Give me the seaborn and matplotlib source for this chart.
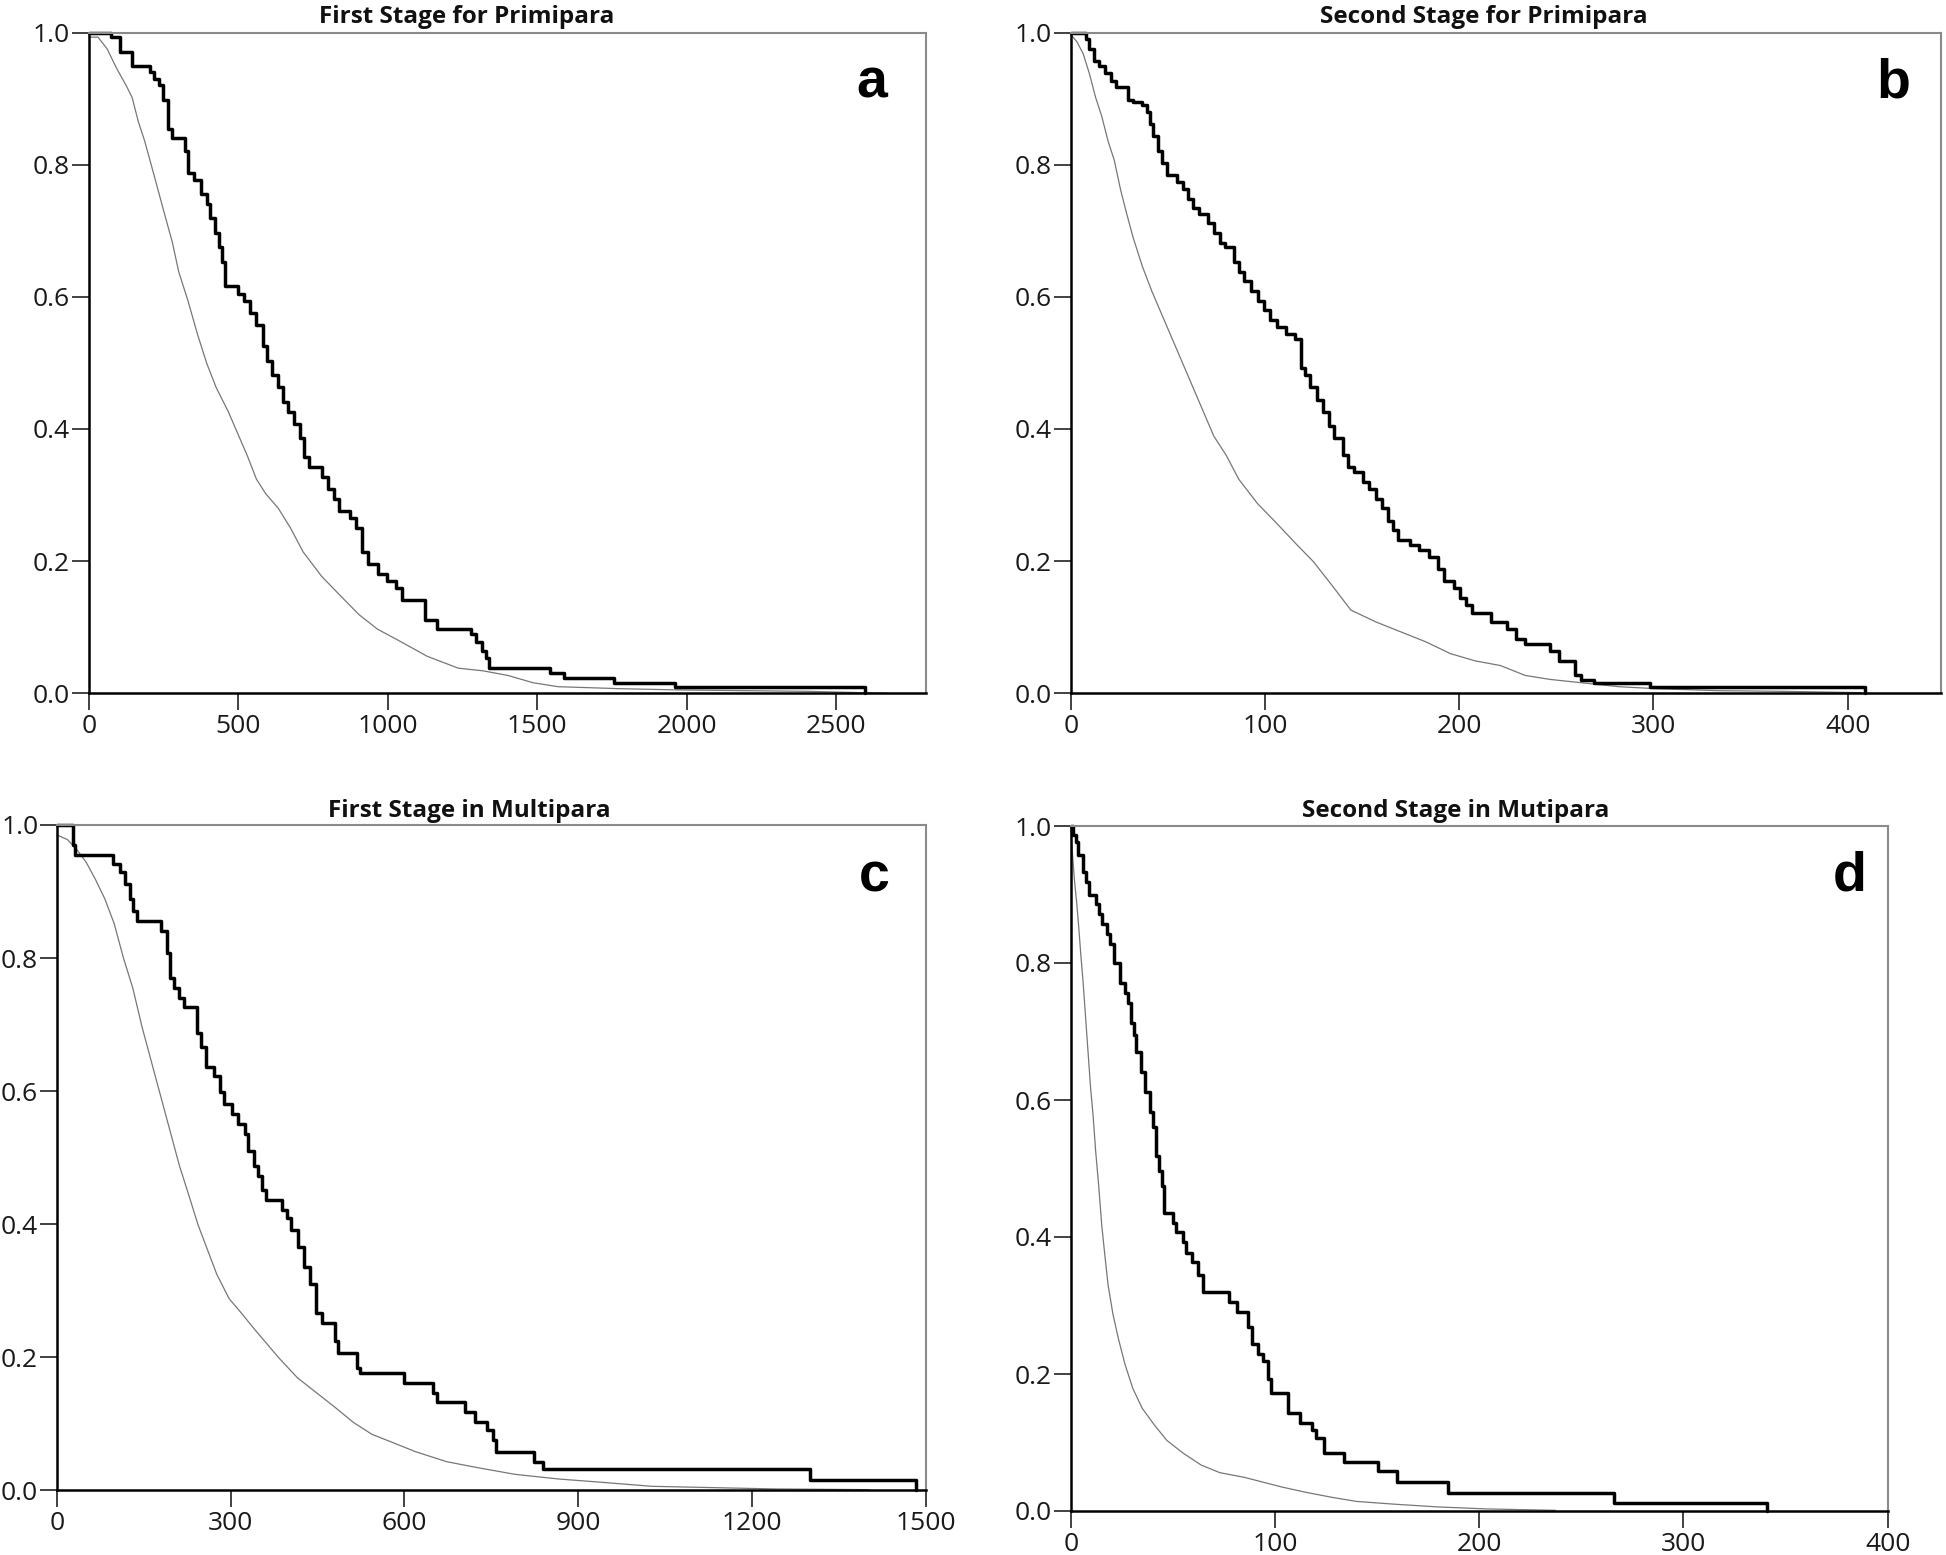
import matplotlib
matplotlib.use('Agg')
import matplotlib.pyplot as plt
import seaborn as sns
import pandas as pd

# ---- values (time, survival) ----
# a: first stage, primipara
a_thick_t = [0, 73, 104, 145, 204, 218, 235, 249, 264, 280, 322, 332, 353, 374, 395, 405, 422, 436, 447,
             457, 499, 519, 540, 561, 582, 596, 613, 634, 650, 665, 686, 706, 721, 738, 779, 800, 821, 837,
             873, 893, 914, 935, 966, 997, 1028, 1049, 1126, 1164, 1278, 1294, 1315, 1330, 1340, 1544,
             1589, 1756, 1959, 2597]
a_thick_s = [1.0, 0.993, 0.97, 0.949, 0.94, 0.93, 0.92, 0.898, 0.854, 0.84, 0.821, 0.788, 0.777, 0.755,
             0.741, 0.719, 0.697, 0.675, 0.653, 0.616, 0.605, 0.594, 0.576, 0.558, 0.525, 0.503, 0.481,
             0.463, 0.441, 0.426, 0.408, 0.386, 0.357, 0.342, 0.327, 0.309, 0.294, 0.276, 0.265, 0.250,
             0.214, 0.195, 0.181, 0.170, 0.159, 0.141, 0.111, 0.097, 0.089, 0.078, 0.064, 0.053, 0.038,
             0.031, 0.023, 0.016, 0.009, 0.0]
a_thin_t = [0, 31, 62, 93, 125, 145, 166, 187, 218, 249, 280, 301, 332, 364, 395, 426, 467, 488, 530, 561,
            592, 634, 675, 717, 779, 841, 904, 966, 1028, 1132, 1236, 1319, 1402, 1486, 1569, 1776, 1984,
            2400, 2670]
a_thin_s = [0.993, 0.993, 0.975, 0.946, 0.920, 0.902, 0.865, 0.836, 0.785, 0.733, 0.682, 0.638, 0.594,
            0.543, 0.499, 0.463, 0.426, 0.404, 0.360, 0.324, 0.302, 0.280, 0.250, 0.214, 0.177, 0.148,
            0.119, 0.097, 0.082, 0.056, 0.038, 0.034, 0.027, 0.016, 0.010, 0.007, 0.005, 0.003, 0.0]

# b: second stage, primipara
b_thick_t = [0, 8, 9.6, 11.9, 14.4, 17.6, 20.8, 23.4, 29.5, 32.1, 36.9, 39.4, 40.7, 42.6, 44.9, 47.1, 49.7,
             54.5, 57.7, 60.3, 63.1, 66.3, 70.5, 73.7, 76.9, 79.2, 84.0, 86.5, 89.1, 92.9, 96.2, 99.4,
             102.6, 106.4, 110.6, 115.4, 118.6, 120.8, 123.4, 126.6, 129.8, 133.0, 135.3, 140.4, 142.6,
             145.8, 150.6, 153.8, 157.1, 160.3, 163.5, 165.7, 168.3, 174.7, 179.5, 184.3, 189.1, 192.3,
             197.1, 200.3, 203.5, 206.7, 216.3, 224.4, 229.2, 234.0, 246.8, 251.6, 259.6, 262.8, 269.2,
             298.1, 408.7]
b_thick_s = [1.0, 0.990, 0.975, 0.957, 0.949, 0.938, 0.927, 0.917, 0.898, 0.895, 0.891, 0.880, 0.862,
             0.843, 0.821, 0.803, 0.785, 0.774, 0.763, 0.748, 0.734, 0.726, 0.712, 0.697, 0.682, 0.675,
             0.653, 0.638, 0.624, 0.609, 0.594, 0.580, 0.565, 0.554, 0.543, 0.536, 0.492, 0.481, 0.463,
             0.444, 0.426, 0.404, 0.386, 0.360, 0.342, 0.335, 0.320, 0.309, 0.294, 0.280, 0.261, 0.247,
             0.232, 0.225, 0.217, 0.206, 0.188, 0.170, 0.159, 0.144, 0.133, 0.122, 0.108, 0.097, 0.082,
             0.075, 0.064, 0.049, 0.027, 0.020, 0.015, 0.009, 0.0]
b_thin_t = [0, 3.2, 6.4, 9.6, 12.8, 16.0, 19.2, 22.4, 25.6, 28.8, 32.1, 36.9, 41.7, 48.1, 54.5, 60.9, 67.3,
            73.7, 80.1, 86.5, 96.2, 105.8, 115.4, 125.0, 134.6, 144.2, 157.1, 169.9, 182.7, 195.5, 208.3,
            221.2, 234.0, 246.8, 262.8, 282.1, 301.3, 333.3, 365.4, 407]
b_thin_s = [0.997, 0.986, 0.968, 0.938, 0.902, 0.873, 0.836, 0.807, 0.763, 0.726, 0.690, 0.646, 0.609,
            0.565, 0.521, 0.477, 0.433, 0.389, 0.360, 0.324, 0.287, 0.258, 0.228, 0.199, 0.163, 0.126,
            0.108, 0.093, 0.078, 0.060, 0.049, 0.042, 0.027, 0.021, 0.016, 0.010, 0.007, 0.004, 0.003,
            0.001]

# c: first stage, multipara
c_thick_t = [0, 27, 31, 96.6, 109.5, 118.1, 125.6, 130.9, 138.5, 179.2, 190.0, 195.3, 202.9, 211.4, 219.0,
             241.5, 248.8, 257.6, 270.5, 281.2, 288.7, 302.7, 313.4, 324.1, 329.5, 340.2, 347.8, 354.2,
             361.7, 388.5, 397.1, 404.6, 415.4, 426.1, 436.8, 447.6, 458.3, 479.8, 485.1, 517.3, 522.7,
             600.0, 649.4, 656.9, 705.5, 721.4, 742.9, 753.5, 758.8, 823.2, 839.3, 1300.9, 1483]
c_thick_s = [1.0, 0.97, 0.955, 0.941, 0.930, 0.911, 0.889, 0.870, 0.855, 0.840, 0.807, 0.770, 0.755, 0.740,
             0.726, 0.688, 0.666, 0.636, 0.622, 0.599, 0.581, 0.566, 0.551, 0.536, 0.510, 0.488, 0.473,
             0.451, 0.436, 0.421, 0.410, 0.392, 0.366, 0.336, 0.310, 0.266, 0.251, 0.225, 0.206, 0.184,
             0.177, 0.162, 0.147, 0.132, 0.117, 0.102, 0.091, 0.076, 0.058, 0.043, 0.032, 0.015, 0.0]
c_thin_t = [0, 18.2, 34.3, 50.4, 66.5, 82.6, 98.7, 114.8, 130.9, 147.0, 163.1, 179.2, 195.3, 211.4, 227.5,
            243.6, 259.7, 275.8, 297.3, 318.8, 340.2, 361.7, 383.2, 415.4, 447.6, 479.8, 512.0, 544.2,
            576.4, 619.3, 673.0, 726.6, 791.0, 866.2, 941.3, 1027.2, 1134.5, 1241.8, 1402.8]
c_thin_s = [0.985, 0.978, 0.963, 0.944, 0.918, 0.889, 0.852, 0.800, 0.755, 0.696, 0.644, 0.592, 0.540,
            0.488, 0.444, 0.399, 0.362, 0.325, 0.288, 0.266, 0.243, 0.221, 0.199, 0.169, 0.147, 0.125,
            0.102, 0.084, 0.073, 0.058, 0.043, 0.034, 0.024, 0.017, 0.012, 0.006, 0.004, 0.002, 0.001]

# d: second stage, multipara
d_thick_t = [0, 0.9, 2.4, 3.7, 6.1, 7.6, 9.1, 12.2, 13.7, 15.2, 17.6, 19.2, 21.3, 24.3, 26.5, 28.0, 29.5,
             31.0, 31.9, 34.4, 36.5, 38.6, 40.5, 41.7, 43.2, 44.7, 45.6, 50.2, 51.7, 54.8, 56.3, 59.3,
             62.4, 64.8, 77.6, 81.5, 86.7, 88.8, 91.9, 94.3, 96.4, 97.9, 106.5, 112.5, 118.0, 120.2,
             124.1, 133.8, 150.6, 159.7, 184.9, 266.2, 340.7]
d_thick_s = [1.0, 0.987, 0.976, 0.958, 0.933, 0.918, 0.900, 0.886, 0.871, 0.857, 0.843, 0.828, 0.800,
             0.771, 0.756, 0.742, 0.713, 0.695, 0.670, 0.641, 0.612, 0.583, 0.561, 0.518, 0.496, 0.475,
             0.435, 0.421, 0.407, 0.392, 0.377, 0.363, 0.345, 0.320, 0.305, 0.291, 0.269, 0.244, 0.229,
             0.219, 0.193, 0.172, 0.143, 0.128, 0.118, 0.107, 0.085, 0.071, 0.058, 0.043, 0.027, 0.012,
             0.0]
d_thin_t = [0, 0.9, 1.8, 3.0, 4.0, 4.9, 6.1, 7.3, 8.5, 9.7, 11.0, 12.2, 13.7, 15.2, 16.7, 18.3, 20.7, 23.4,
            26.5, 30.4, 35.0, 41.1, 47.1, 54.8, 63.9, 73.0, 85.2, 94.3, 103.4, 115.6, 127.8, 139.9, 158.2,
            179.5, 203.8, 237.3]
d_thin_s = [1.0, 0.958, 0.922, 0.886, 0.850, 0.814, 0.771, 0.720, 0.670, 0.619, 0.576, 0.526, 0.475,
            0.417, 0.374, 0.330, 0.287, 0.251, 0.215, 0.179, 0.150, 0.125, 0.103, 0.085, 0.067, 0.056,
            0.049, 0.042, 0.035, 0.027, 0.020, 0.014, 0.010, 0.006, 0.003, 0.001]

titles = ['First Stage for Primipara', 'Second Stage for Primipara',
          'First Stage in Multipara', 'Second Stage in Mutipara']
letters = ['a', 'b', 'c', 'd']
y_ticks = [0.0, 0.2, 0.4, 0.6, 0.8, 1.0]

sns.set_style('ticks')
plt.rcParams['font.family'] = ['Open Sans', 'DejaVu Sans']

W, H = 1946, 1555
fig = plt.figure(figsize=(W / 100, H / 100), dpi=100)

# layout in pixels: axes box (left, top, right, bottom), title (x, baseline), letter (x, baseline)
panels = [
    dict(box=(88.7, 32.5, 926, 693.3), xmax=2800, xticks=[0, 500, 1000, 1500, 2000, 2500],
         title_xy=(467, 23), letter_xy=(872, 97), thick=(a_thick_t, a_thick_s), thin=(a_thin_t, a_thin_s)),
    dict(box=(1070.7, 32.5, 1941, 693.3), xmax=448, xticks=[0, 100, 200, 300, 400],
         title_xy=(1484, 23), letter_xy=(1893, 97), thick=(b_thick_t, b_thick_s), thin=(b_thin_t, b_thin_s)),
    dict(box=(57, 825, 925.5, 1490.3), xmax=1500, xticks=[0, 300, 600, 900, 1200, 1500],
         title_xy=(469, 817), letter_xy=(874, 891), thick=(c_thick_t, c_thick_s), thin=(c_thin_t, c_thin_s)),
    dict(box=(1070.7, 826, 1887.7, 1511), xmax=400, xticks=[0, 100, 200, 300, 400],
         title_xy=(1456, 817), letter_xy=(1850, 890), thick=(d_thick_t, d_thick_s), thin=(d_thin_t, d_thin_s)),
]

for p, title, letter in zip(panels, titles, letters):
    l, t, r, b = p['box']
    ax = fig.add_axes([l / W, 1 - b / H, (r - l) / W, (b - t) / H])

    thin = pd.DataFrame({'time': p['thin'][0], 'surv': p['thin'][1]})
    thick = pd.DataFrame({'time': p['thick'][0], 'surv': p['thick'][1]})
    sns.lineplot(data=thin, x='time', y='surv', ax=ax, color='#777777', linewidth=0.9,
                 estimator=None, sort=False, clip_on=False)
    sns.lineplot(data=thick, x='time', y='surv', ax=ax, color='black', linewidth=2.5,
                 estimator=None, sort=False, drawstyle='steps-post', clip_on=False)

    ax.set_xlim(0, p['xmax'])
    ax.set_ylim(0, 1.0)
    ax.set_xticks(p['xticks'])
    ax.set_xticklabels([str(v) for v in p['xticks']])
    ax.set_yticks(y_ticks)
    ax.set_yticklabels(['%.1f' % v for v in y_ticks])
    ax.set_xlabel('')
    ax.set_ylabel('')
    ax.tick_params(axis='both', which='major', bottom=True, left=True, top=False, right=False,
                   direction='out', length=12, width=1.3, color='#333333',
                   labelsize=19, labelcolor='#1a1a1a')
    ax.tick_params(axis='y', pad=1.5)
    ax.tick_params(axis='x', pad=3)
    for side in ['left', 'bottom']:
        ax.spines[side].set_color('black')
        ax.spines[side].set_linewidth(1.8)
    for side in ['top', 'right']:
        ax.spines[side].set_visible(True)
        ax.spines[side].set_color('#8a8a8a')
        ax.spines[side].set_linewidth(1.5)

    tx, ty = p['title_xy']
    fig.text(tx / W, 1 - ty / H, title, ha='center', va='baseline', fontsize=17.5,
             fontweight='bold', color='#111111')
    lx, ly = p['letter_xy']
    fig.text(lx / W, 1 - ly / H, letter, ha='center', va='baseline', fontsize=40,
             fontweight='bold', family=['Liberation Sans', 'DejaVu Sans'], color='black')

fig.savefig('out.png', dpi=100)
